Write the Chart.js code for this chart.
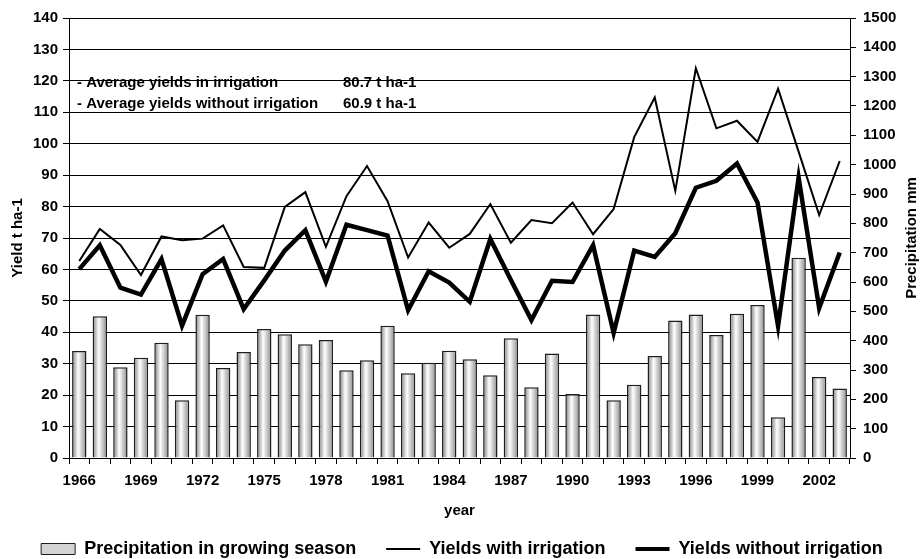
<!DOCTYPE html>
<html>
<head>
<meta charset="utf-8">
<script src="https://cdn.jsdelivr.net/npm/chart.js@4.4.1/dist/chart.umd.min.js"></script>
<style>
  html, body { margin: 0; padding: 0; background: #ffffff; }
  #cadre { width: 924px; height: 559px; }
</style>
</head>
<body>
<div id="cadre"><canvas id="myChartRendement"></canvas></div>
<script>
//? Données.

const annees = [
  "1966", "1967", "1968", "1969", "1970", "1971", "1972", "1973", "1974", "1975",
  "1976", "1977", "1978", "1979", "1980", "1981", "1982", "1983", "1984", "1985",
  "1986", "1987", "1988", "1989", "1990", "1991", "1992", "1993", "1994", "1995",
  "1996", "1997", "1998", "1999", "2000", "2001", "2002", "2003",
];

// mm, axe de droite
const precipitations = [
  365, 483, 309, 342, 393, 197, 488, 307, 361, 440,
  422, 388, 402, 299, 333, 451, 289, 325, 366, 337,
  282, 408, 241, 356, 218, 489, 197, 250, 348, 469,
  489, 419, 492, 522, 139, 683, 276, 237,
];

// t ha-1, axe de gauche
const rendementIrrigue = [
  62.7, 72.9, 67.8, 58.2, 70.5, 69.3, 69.8, 74.0, 60.8, 60.5,
  79.9, 84.6, 67.2, 83.3, 92.9, 81.7, 63.8, 74.9, 66.9, 71.3,
  80.8, 68.5, 75.7, 74.7, 81.3, 71.2, 79.2, 102.1, 114.7, 85.0,
  124.0, 104.9, 107.3, 100.6, 117.5, 97.5, 77.3, 94.5,
];

const rendementSansIrrigation = [
  60.1, 67.7, 54.2, 52.0, 63.3, 42.1, 58.5, 63.3, 47.4, 56.5,
  66.0, 72.5, 56.1, 74.2, 72.5, 70.8, 47.0, 59.4, 55.8, 49.7,
  69.7, 56.6, 43.9, 56.4, 56.0, 67.7, 39.8, 66.0, 64.0, 71.5,
  86.0, 88.2, 93.7, 81.3, 42.0, 89.2, 47.7, 65.4,
];

const moyennes = [
  { texte: "- Average yields in irrigation", valeur: "80.7 t ha-1" },
  { texte: "- Average yields without irrigation", valeur: "60.9 t ha-1" },
];

//? -------------------------------------------------

const police = "'Liberation Sans', Arial, Helvetica, sans-serif";
const fontGras = (taille) => ({ family: police, size: taille, weight: "bold" });

//? Dégradé gris / blanc / gris de chaque barre.

const degradeBarre = (context) => {
  const chart = context.chart;
  const { chartArea, scales } = chart;
  if (!chartArea || context.type !== "data") return "#dcdcdc";
  const x = scales.x.getPixelForValue(context.dataIndex);
  const demi = ((chartArea.right - chartArea.left) / annees.length) * 0.7 / 2;
  const g = chart.ctx.createLinearGradient(x - demi, 0, x + demi, 0);
  g.addColorStop(0, "#7c7c7c");
  g.addColorStop(0.42, "#ffffff");
  g.addColorStop(1, "#8a8a8a");
  return g;
};

//? Textes des moyennes (dessinés avant la grille, comme sur l'original).

const texteMoyennes = {
  id: "texteMoyennes",
  beforeDraw(chart) {
    const { ctx, chartArea } = chart;
    ctx.save();
    ctx.fillStyle = "#ffffff";
    ctx.fillRect(0, 0, chart.width, chart.height);
    ctx.font = `bold 15px ${police}`;
    ctx.fillStyle = "#000000";
    ctx.textBaseline = "middle";
    moyennes.forEach((m, i) => {
      const y = chartArea.top + 65 + i * 21;
      ctx.fillText(m.texte, chartArea.left + 8, y);
      ctx.fillText(m.valeur, chartArea.left + 274, y);
    });
    ctx.restore();
  },
};

//? Titre de l'axe de droite, lu de bas en haut.

const titreDroit = {
  id: "titreDroit",
  afterDraw(chart) {
    const { ctx, chartArea } = chart;
    ctx.save();
    ctx.translate(chart.width - 12, (chartArea.top + chartArea.bottom) / 2);
    ctx.rotate(-Math.PI / 2);
    ctx.font = `bold 15px ${police}`;
    ctx.fillStyle = "#000000";
    ctx.textAlign = "center";
    ctx.textBaseline = "middle";
    ctx.fillText("Precipitation mm", 0, 0);
    ctx.restore();
  },
};

//? Construction du graphique.

const constructionDuGraphique = () => {
  const ctx = document.getElementById("myChartRendement").getContext("2d");

  const data = {
    labels: annees,
    datasets: [
      {
        type: "bar",
        label: "Precipitation in growing season",
        data: precipitations,
        yAxisID: "yPrecip",
        backgroundColor: degradeBarre,
        borderColor: "#1e1e1e",
        borderWidth: 1.5,
        barPercentage: 0.7,
        categoryPercentage: 1,
        order: 3,
      },
      {
        type: "line",
        label: "Yields with irrigation",
        data: rendementIrrigue,
        yAxisID: "y",
        borderColor: "#000000",
        borderWidth: 2,
        pointRadius: 0,
        tension: 0,
        order: 2,
      },
      {
        type: "line",
        label: "Yields without irrigation",
        data: rendementSansIrrigation,
        yAxisID: "y",
        borderColor: "#000000",
        borderWidth: 4.5,
        pointRadius: 0,
        tension: 0,
        order: 1,
      },
    ],
  };

  const options = {
    responsive: true,
    maintainAspectRatio: false,
    animation: false,
    layout: { padding: { top: 18, left: 0, right: 0, bottom: -9 } },
    plugins: {
      tooltip: { enabled: false },
      legend: {
        position: "bottom",
        labels: {
          usePointStyle: true,
          pointStyleWidth: 34,
          boxHeight: 11,
          padding: 30,
          color: "#000000",
          font: fontGras(18),
          generateLabels: (chart) => {
            const ds = chart.data.datasets;
            return [
              { text: ds[0].label, fillStyle: "#d4d4d4", strokeStyle: "#1e1e1e", lineWidth: 1, pointStyle: "rect", datasetIndex: 0 },
              { text: ds[1].label, fillStyle: "#000000", strokeStyle: "#000000", lineWidth: 2, pointStyle: "line", datasetIndex: 1 },
              { text: ds[2].label, fillStyle: "#000000", strokeStyle: "#000000", lineWidth: 4, pointStyle: "line", datasetIndex: 2 },
            ];
          },
        },
      },
    },
    scales: {
      x: {
        offset: true,
        grid: { offset: true, drawOnChartArea: false, drawTicks: true, tickLength: 6, color: "#000000" },
        border: { color: "#000000", width: 1 },
        ticks: {
          autoSkip: false,
          maxRotation: 0,
          color: "#000000",
          padding: 8,
          font: fontGras(15),
          callback: (valeur, index) => (index % 3 === 0 ? annees[index] : ""),
        },
        title: { display: true, text: "year", color: "#000000", font: fontGras(15), padding: { top: 0, bottom: -10 } },
        afterFit: (scale) => { scale.height = 52; },
      },
      y: {
        position: "left",
        min: 0,
        max: 140,
        ticks: { stepSize: 10, color: "#000000", padding: 5, font: fontGras(15) },
        grid: { color: "#000000", lineWidth: 1, tickLength: 6 },
        border: { color: "#000000", width: 1 },
        title: { display: true, text: "Yield t ha-1", color: "#000000", font: fontGras(15), padding: { top: 9, bottom: 0 } },
        afterFit: (scale) => { scale.width = 69; },
      },
      yPrecip: {
        position: "right",
        min: 0,
        max: 1500,
        ticks: { stepSize: 100, color: "#000000", padding: 7, font: fontGras(15), callback: (valeur) => String(valeur) },
        grid: { drawOnChartArea: false, color: "#000000", tickLength: 6 },
        border: { color: "#000000", width: 1 },
        afterFit: (scale) => { scale.width = 74; },
      },
    },
  };

  new Chart(ctx, { type: "bar", data, options, plugins: [texteMoyennes, titreDroit] });
};

constructionDuGraphique();
</script>
</body>
</html>
